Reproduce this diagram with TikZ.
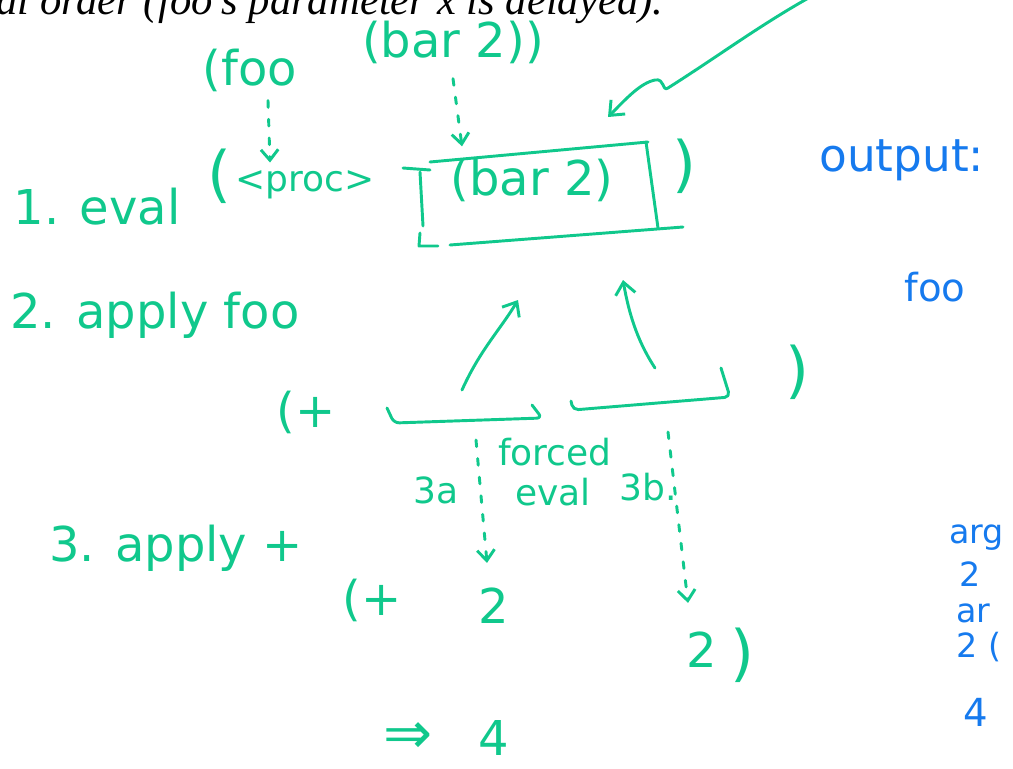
\documentclass[tikz,border=0pt]{standalone}
\usepackage{fontspec}
\setmainfont{DejaVu Sans}
\newfontfamily\printfont{Liberation Serif}
\usetikzlibrary{arrows.meta,calc}
\definecolor{inkgreen}{RGB}{16,200,140}
\definecolor{inkblue}{RGB}{22,122,238}
\tikzset{
  hand/.style={text=inkgreen,inner sep=0.75pt,font=\fontsize{36}{40}\selectfont},
  handsm/.style={hand,font=\fontsize{27}{30}\selectfont},
  handbig/.style={hand,font=\fontsize{46}{50}\selectfont},
  bluehand/.style={text=inkblue,inner sep=0.75pt,font=\fontsize{34}{38}\selectfont},
  bluesm/.style={bluehand,font=\fontsize{29}{32}\selectfont},
  bluetiny/.style={bluehand,font=\fontsize{25}{28}\selectfont},
  pen/.style={draw=inkgreen,line width=2.2pt,line cap=round,line join=round},
  dasharr/.style={pen,dash pattern=on 5pt off 9pt,-{Straight Barb[length=8pt,width=13pt]}},
  solarr/.style={pen,-{Straight Barb[length=9pt,width=15pt]}},
}
\begin{document}
\begin{tikzpicture}[x=0.75pt,y=0.75pt,yscale=-1,xscale=1]
\useasboundingbox (0,0) rectangle (1013,768);

% Text Node
\node[anchor=base west,inner sep=0pt,font=\printfont\itshape\fontsize{32}{36}\selectfont] (intro) at (-4,14) {al order (foo’s parameter x is delayed).};

% Text Node
\node[hand] (fooop) at (250,70) {(foo};
% Text Node
\node[hand] (barexp) at (453,42) {(bar 2))};
% Text Node
\node[hand] (step1) at (97,207) {1. eval};
% Text Node
\node[handbig] (lpar) at (219,176) {(};
% Text Node
\node[handsm] (proc) at (305,185) {<proc>};
% Text Node
\node[hand] (barcall) at (532,180) {(bar 2)};
% Text Node
\node[handbig] (rpar) at (684,166) {)};
% Text Node
\node[hand] (step2) at (155,315) {2. apply foo};
% Text Node
\node[hand] (plusop) at (306,412) {(+};
% Text Node
\node[handbig] (rparb) at (797,372) {)};
% Text Node
\node[handsm] (lab3a) at (436,490) {3a};
% Text Node
\node[handsm] (forced) at (555,452) {forced};
% Text Node
\node[handsm] (evallab) at (553,492) {eval};
% Text Node
\node[handsm] (lab3b) at (648,487) {3b.};
% Text Node
\node[hand] (step3) at (176,548) {3. apply +};
% Text Node
\node[hand] (plusres) at (372,600) {(+};
% Text Node
\node[hand] (twoa) at (494,606) {2};
% Text Node
\node[hand] (twob) at (702,650) {2};
% Text Node
\node[handbig] (rparc) at (742,655) {)};
% Text Node
\node[hand,font=\fontsize{44}{48}\selectfont] (impl) at (408,738) {⇒};
% Text Node
\node[hand] (four) at (494,738) {4};

% Text Node
\node[bluehand,anchor=west] (outlab) at (818,160) {output:};
% Text Node
\node[bluesm] (outfoo) at (935,287) {foo};
% Text Node
\node[bluetiny,anchor=west] (argone) at (948,538) {arg};
% Text Node
\node[bluetiny,anchor=west] (valone) at (958,574) {2};
% Text Node
\node[bluetiny,anchor=west] (argtwo) at (955,613) {ar};
% Text Node
\node[bluetiny,anchor=west] (valtwo) at (955,647) {2 (};
% Text Node
\node[bluesm,anchor=west] (valsum) at (962,712) {4};

%Shape: Box
\draw[pen] (430,162) -- (648,142);
\draw[pen] (646,142) -- (658,228);
\draw[pen] (450,245) -- (683,227);
\draw[pen] (403,168) -- (430,170);
\draw[pen] (420,172) -- (423,226);
\draw[pen] (420,233) -- (419,246) -- (438,246);

%Shape: Braces
\draw[pen,rounded corners=4pt] (387,408) -- (394,423) -- (542,418) -- (532,405);
\draw[pen,rounded corners=4pt] (571,401) -- (573,410) -- (730,397) -- (721,368);

% Connectors
\coordinate (noteptr) at (812,-4);
\coordinate (boxtop) at (608,117);
\coordinate (braceone) at (462,390);
\coordinate (bracetwo) at (655,368);
\coordinate (tipone) at (518,300);
\coordinate (tiptwo) at (623,280);
\coordinate (force3a) at (476,440);
\coordinate (force3b) at (668,432);

\draw[dasharr] ($(fooop.south)+(18,8)$) -- ($(proc.north)+(-35,-7)$);
\draw[dasharr] ($(barexp.south)+(0,14)$) -- ($(barcall.north)+(-70,-11)$);
\draw[solarr] (noteptr) .. controls (760,25) and (720,55) .. (668,88) .. controls (662,92) and (665,78) .. (655,80) .. controls (640,83) and (625,100) .. (boxtop);
\draw[solarr] (braceone) .. controls (480,350) and (500,330) .. (tipone);
\draw[solarr] (bracetwo) .. controls (640,345) and (630,320) .. (tiptwo);
\draw[dasharr] (force3a) -- ($(twoa.north)+(-7,-24)$);
\draw[dasharr] (force3b) -- ($(twob.north)+(-14,-28)$);

\end{tikzpicture}
\end{document}
